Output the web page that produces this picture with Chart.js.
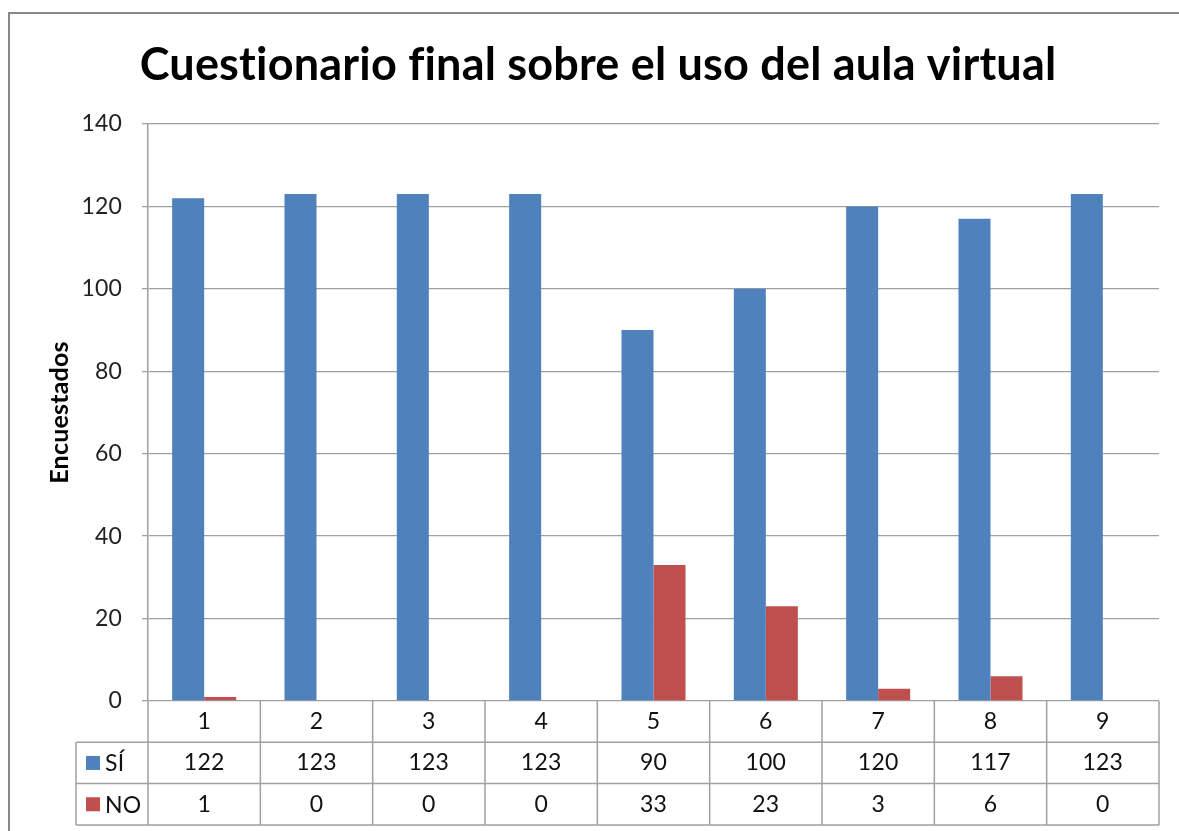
<!DOCTYPE html>
<html>
<head>
<meta charset="utf-8">
<script src="https://cdn.jsdelivr.net/npm/chart.js@4"></script>
<style>
  html, body { margin: 0; padding: 0; background: #fff; }
  #chart { display: block; }
</style>
</head>
<body>
<canvas id="chart" width="1179" height="831"></canvas>
<script>
// ── Data ──
const categories = ['1', '2', '3', '4', '5', '6', '7', '8', '9'];
const siValues = [122, 123, 123, 123, 90, 100, 120, 117, 123];
const noValues = [1, 0, 0, 0, 33, 23, 3, 6, 0];
const seriesNames = ['SÍ', 'NO'];
const yTicks = [0, 20, 40, 60, 80, 100, 120, 140];

const BLUE = '#4F81BD';
const RED = '#C0504D';
const LINE = '#a0a0a0';
const FONT = 'Lato, "Open Sans", sans-serif';

// background + outer frame
const framePlugin = {
  id: 'frame',
  beforeDraw(chart) {
    const ctx = chart.ctx;
    ctx.save();
    ctx.fillStyle = '#fff';
    ctx.fillRect(0, 0, chart.width, chart.height);
    ctx.strokeStyle = '#878787';
    ctx.lineWidth = 2;
    ctx.strokeRect(9, 13, chart.width, chart.height);
    ctx.restore();
    // tiny spacing keeps Lato from using its "ti"/"fi" ligatures
    if ('letterSpacing' in ctx) ctx.letterSpacing = '0.2px';
  }
};

// data table under the plot, columns taken from the x scale
const tablePlugin = {
  id: 'dataTable',
  afterDraw(chart) {
    const { ctx, chartArea: a, scales: { x } } = chart;
    const cw = (a.right - a.left) / categories.length;
    const rowH = 41.3;
    const y0 = a.bottom, y1 = y0 + rowH, y2 = y1 + rowH, y3 = y2 + rowH;
    const left = 76;
    ctx.save();
    ctx.strokeStyle = LINE;
    ctx.lineWidth = 1.5;
    ctx.beginPath();
    [y1, y2, y3].forEach(y => { ctx.moveTo(left, y); ctx.lineTo(a.right, y); });
    ctx.moveTo(left, y1); ctx.lineTo(left, y3);
    for (let i = 0; i <= categories.length; i++) {
      const xb = a.left + i * cw;
      ctx.moveTo(xb, y0); ctx.lineTo(xb, y3);
    }
    ctx.stroke();

    ctx.fillStyle = '#111';
    ctx.font = '23px ' + FONT;
    ctx.textAlign = 'center';
    ctx.textBaseline = 'middle';
    categories.forEach((c, i) => {
      const cx = x.getPixelForValue(i);
      ctx.fillText(c, cx, (y0 + y1) / 2);
      ctx.fillText(String(siValues[i]), cx, (y1 + y2) / 2);
      ctx.fillText(String(noValues[i]), cx, (y2 + y3) / 2);
    });

    // legend keys
    ctx.textAlign = 'left';
    [[BLUE, seriesNames[0], (y1 + y2) / 2], [RED, seriesNames[1], (y2 + y3) / 2]].forEach(([col, name, cy]) => {
      ctx.fillStyle = col;
      ctx.fillRect(86, cy - 7, 14, 14);
      ctx.fillStyle = '#111';
      ctx.fillText(name, 105, cy + 1);
    });
    ctx.restore();
  }
};

new Chart(document.getElementById('chart'), {
  type: 'bar',
  data: {
    labels: categories,
    datasets: [
      { label: seriesNames[0], data: siValues, backgroundColor: BLUE, categoryPercentage: 0.57, barPercentage: 1 },
      { label: seriesNames[1], data: noValues, backgroundColor: RED, categoryPercentage: 0.57, barPercentage: 1 }
    ]
  },
  options: {
    responsive: false,
    animation: false,
    layout: { padding: { left: 37, right: 20, top: 0, bottom: 130 } },
    plugins: {
      legend: { display: false },
      tooltip: { enabled: false },
      title: {
        display: true,
        text: 'Cuestionario final sobre el uso del aula virtual',
        color: '#000',
        font: { family: FONT, size: 45, weight: 'bold' },
        padding: { top: 38, bottom: 32 }
      }
    },
    scales: {
      x: { display: false },
      y: {
        min: 0, max: 140,
        afterBuildTicks: s => { s.ticks = yTicks.map(v => ({ value: v })); },
        afterFit: s => { s.width = 111; },
        ticks: { color: '#222', padding: 20, font: { family: FONT, size: 23 } },
        grid: { color: LINE, lineWidth: 1.3, tickLength: 6 },
        border: { display: true, color: LINE, width: 1.5 },
        title: {
          display: true,
          text: 'Encuestados',
          color: '#000',
          font: { family: FONT, size: 25, weight: 'bold' },
          padding: { top: 8, bottom: 0 }
        }
      }
    }
  },
  plugins: [framePlugin, tablePlugin]
});
</script>
</body>
</html>
